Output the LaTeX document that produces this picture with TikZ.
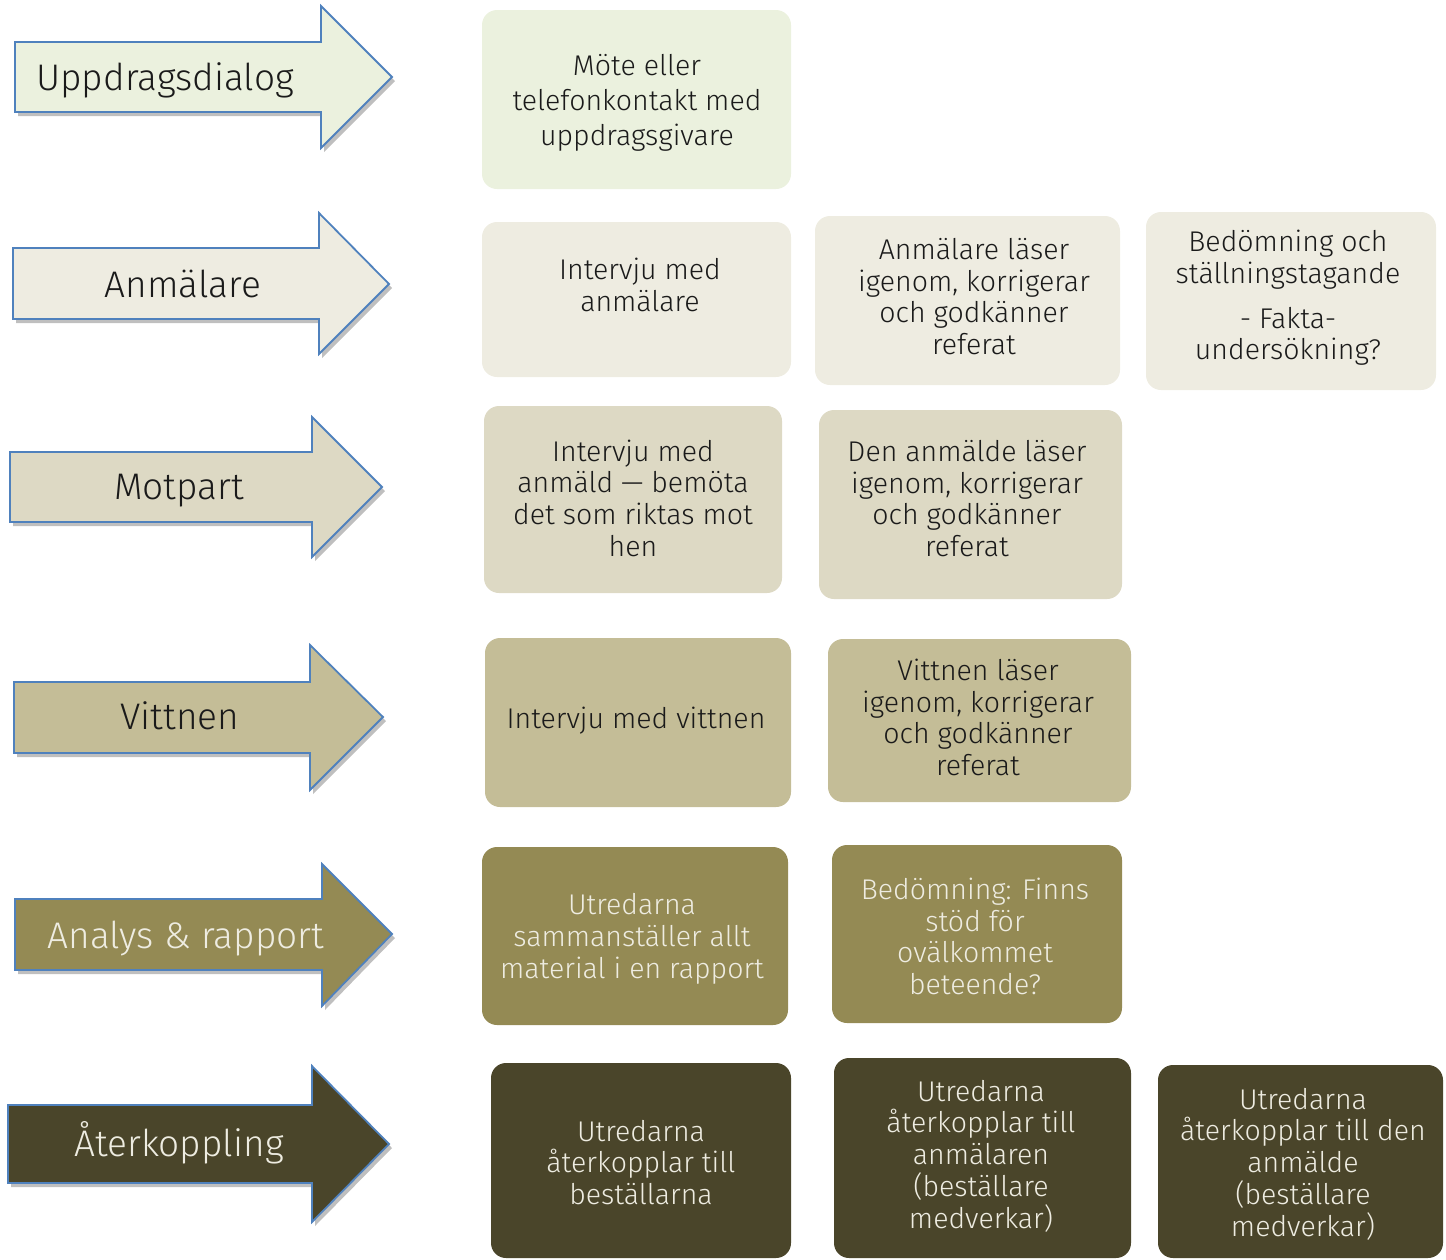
\documentclass[tikz,border=0pt]{standalone}
\usepackage{fontspec}
\setmainfont{Fira Sans Light}
\usetikzlibrary{shadows}
\definecolor{cA}{HTML}{EBF1DE}
\definecolor{cB}{HTML}{EEECE1}
\definecolor{cC}{HTML}{DDD9C4}
\definecolor{cD}{HTML}{C4BD97}
\definecolor{cE}{HTML}{948A54}
\definecolor{cF}{HTML}{4A452A}
\definecolor{edgeblue}{HTML}{4F81BD}
\definecolor{darktxt}{HTML}{1A1A1A}
\definecolor{lighttxt}{HTML}{EEECE1}
\begin{document}
\begin{tikzpicture}[x=1pt,y=-1pt,
  arrowsty/.style={draw=edgeblue, line width=1.8pt, line join=miter,
    drop shadow={shadow xshift=3pt, shadow yshift=-4pt, opacity=0.25, fill=black}},
  arrlabel/.style={anchor=base, inner sep=0pt, font=\fontsize{37}{40}\selectfont},
  box/.style={rounded corners=15pt, inner sep=0pt, draw=none},
  btext/.style={inner sep=0pt, align=center, font=\fontsize{28.5}{31.7}\selectfont, text=darktxt},
  dtext/.style={btext, text=lighttxt}]
\useasboundingbox (0,0) rectangle (1446,1259);

% ---- arrows ----
\draw[arrowsty, fill=cA] (15,42) -- (321,42) -- (321,6) -- (392,77) -- (321,148) -- (321,112) -- (15,112) -- cycle;
\draw[arrowsty, fill=cB] (13,248) -- (319,248) -- (319,213) -- (389,284) -- (319,354) -- (319,319) -- (13,319) -- cycle;
\draw[arrowsty, fill=cC] (10,452) -- (312,452) -- (312,417) -- (382,487) -- (312,557) -- (312,522) -- (10,522) -- cycle;
\draw[arrowsty, fill=cD] (14,682) -- (310,682) -- (310,645) -- (383,717) -- (310,790) -- (310,753) -- (14,753) -- cycle;
\draw[arrowsty, fill=cE] (15,899) -- (322,899) -- (322,864) -- (392,934) -- (322,1006) -- (322,970) -- (15,970) -- cycle;
\draw[arrowsty, fill=cF] (8,1105) -- (312,1105) -- (312,1066) -- (389,1144) -- (312,1222) -- (312,1183) -- (8,1183) -- cycle;

\node[arrlabel, text=darktxt] (l1) at (165,90) {Uppdragsdialog};
\node[arrlabel, text=darktxt] (l2) at (183,297) {Anmälare};
\node[arrlabel, text=darktxt] (l3) at (179,499) {Motpart};
\node[arrlabel, text=darktxt] (l4) at (180,729) {Vittnen};
\node[arrlabel, text=lighttxt] (l5) at (186,948) {Analys \& rapport};
\node[arrlabel, text=lighttxt] (l6) at (179,1156) {Återkoppling};

% ---- boxes ----
\fill[box, fill=cA] (482,10) rectangle (791,189);
\fill[box, fill=cB] (482,222) rectangle (791,377);
\fill[box, fill=cB] (815,216) rectangle (1120,385);
\fill[box, fill=cB] (1146,212) rectangle (1436,390);
\fill[box, fill=cC] (484,406) rectangle (782,593);
\fill[box, fill=cC] (819,410) rectangle (1122,599);
\fill[box, fill=cD] (485,638) rectangle (791,807);
\fill[box, fill=cD] (828,639) rectangle (1131,802);
\fill[box, fill=cE] (482,847) rectangle (788,1025);
\fill[box, fill=cE] (832,845) rectangle (1122,1023);
\fill[box, fill=cF] (491,1063) rectangle (791,1258);
\fill[box, fill=cF] (834,1058) rectangle (1131,1258);
\fill[box, fill=cF] (1158,1065) rectangle (1443,1258);

% ---- texts ----
\node[btext, font=\fontsize{28.5}{35}\selectfont] (b11) at (637,103)
  {Möte eller\\telefonkontakt med\\uppdragsgivare};
\node[btext] (b21) at (640,285) {Intervju med\\anmälare};
\node[btext] (b22) at (974,296.5) {Anmälare läser\\igenom, korrigerar\\och godkänner\\referat};
\node[btext] (b23) at (1288,298) {Bedömning och\\ställningstagande\\[13pt]- Fakta-\\undersökning?};
\node[btext] (b31) at (633,498) {Intervju med\\anmäld — bemöta\\det som riktas mot\\hen};
\node[btext] (b32) at (967,498.5) {Den anmälde läser\\igenom, korrigerar\\och godkänner\\referat};
\node[btext] (b41) at (636,721) {Intervju med vittnen};
\node[btext] (b42) at (978,717.5) {Vittnen läser\\igenom, korrigerar\\och godkänner\\referat};
\node[dtext] (b51) at (632,939) {Utredarna\\sammanställer allt\\material i en rapport};
\node[dtext] (b52) at (975,936.5) {Bedömning: Finns\\stöd för\\ovälkommet\\beteende?};
\node[dtext] (b61) at (641,1162.5) {Utredarna\\återkopplar till\\beställarna};
\node[dtext] (b62) at (981,1156) {Utredarna\\återkopplar till\\anmälaren\\(beställare\\medverkar)};
\node[dtext] (b63) at (1303,1164) {Utredarna\\återkopplar till den\\anmälde\\(beställare\\medverkar)};
\end{tikzpicture}
\end{document}
